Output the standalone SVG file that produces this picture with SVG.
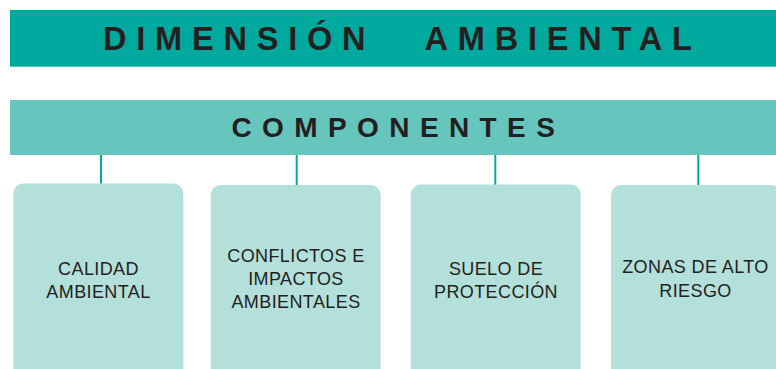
<svg xmlns="http://www.w3.org/2000/svg" width="776" height="369" viewBox="0 0 776 369">
<style>
.title{font-family:"Liberation Sans",Arial,sans-serif;font-weight:bold;fill:#231F20;}
.box{fill:#B3E0DB;}
.lbl{font-family:"Liberation Sans",Arial,sans-serif;font-size:18px;fill:#231F20;text-anchor:middle;letter-spacing:0.4px;}
.conn{stroke:#00A99D;stroke-width:2;fill:none;}
</style>
<rect width="776" height="369" fill="#FFFFFF"/>
<g id="dimension">
<rect x="10" y="10" width="770" height="56.7" fill="#00A99D"/>
<text class="title" y="50" font-size="32.5" letter-spacing="9.8"><tspan x="103">DIMENSIÓN</tspan><tspan x="424.5">AMBIENTAL</tspan></text>
</g>
<g id="componentes">
<rect x="10" y="100" width="770" height="55" fill="#66C5BD"/>
<text class="title" x="231.5" y="136.7" font-size="28" letter-spacing="10.4">COMPONENTES</text>
</g>
<g id="connectors">
<line class="conn" x1="101" y1="155" x2="101" y2="184"/>
<line class="conn" x1="296.7" y1="155" x2="296.7" y2="185"/>
<line class="conn" x1="495.3" y1="155" x2="495.3" y2="185"/>
<line class="conn" x1="698.3" y1="155" x2="698.3" y2="185"/>
</g>
<g id="calidad">
<rect class="box" x="13.3" y="183.5" width="170" height="200" rx="10"/>
<text class="lbl" x="98.5" y="275">CALIDAD</text>
<text class="lbl" x="98.5" y="298.3">AMBIENTAL</text>
</g>
<g id="conflictos">
<rect class="box" x="210.7" y="185" width="170" height="200" rx="10"/>
<text class="lbl" x="296" y="261.7">CONFLICTOS E</text>
<text class="lbl" x="296" y="285">IMPACTOS</text>
<text class="lbl" x="296" y="308.3">AMBIENTALES</text>
</g>
<g id="suelo">
<rect class="box" x="410.7" y="184.5" width="170" height="200" rx="10"/>
<text class="lbl" x="496" y="275">SUELO DE</text>
<text class="lbl" x="496" y="298.3">PROTECCIÓN</text>
</g>
<g id="zonas">
<rect class="box" x="611" y="185" width="170" height="200" rx="10"/>
<text class="lbl" x="695.5" y="273.3">ZONAS DE ALTO</text>
<text class="lbl" x="695.5" y="296.7">RIESGO</text>
</g>
</svg>
